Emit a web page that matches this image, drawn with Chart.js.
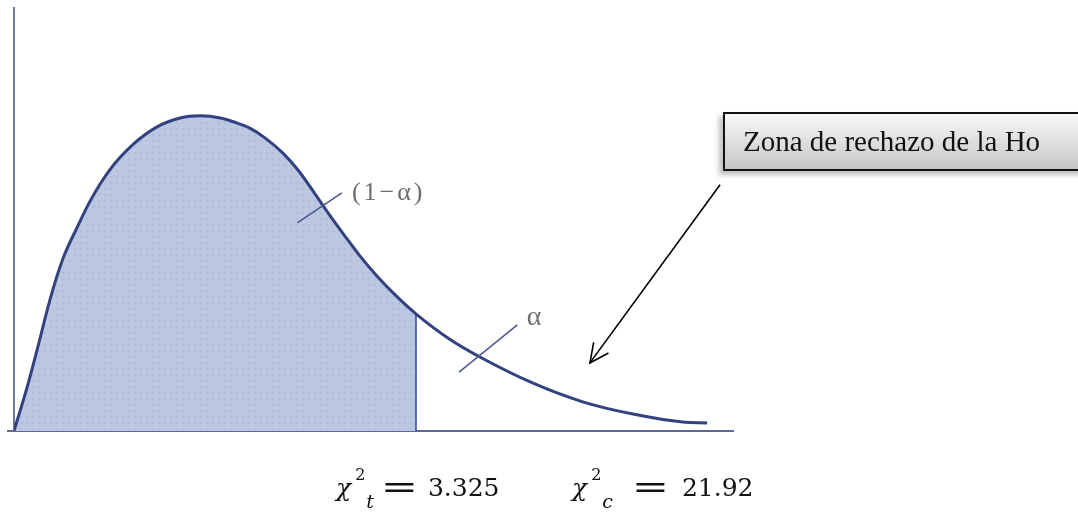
<!DOCTYPE html>
<html>
<head>
<meta charset="utf-8">
<script src="https://cdn.jsdelivr.net/npm/chart.js@4"></script>
<style>
  html, body { margin: 0; padding: 0; background: #fff; }
  #wrap { position: relative; width: 1078px; height: 517px; overflow: hidden; }
  #myChart { position: absolute; left: 0; top: 0; }
  .box {
    position: absolute; left: 723px; top: 112px; width: 370px; height: 55px;
    border: 2px solid #111;
    background: linear-gradient(#f8f8f8, #c6c6c6);
    box-shadow: -4px 4px 5px rgba(0,0,0,0.25);
    font-family: "Liberation Serif", serif; font-size: 29px; color: #111;
    line-height: 55px; padding-left: 18px;
  }
  .lbl { position: absolute; font-family: "Liberation Serif", serif; color: #6e6e6e; font-size: 26px; letter-spacing: 3px; white-space: nowrap; }
  #lblB { font-size: 28px; }
  .eq { position: absolute; top: 473px; font-family: "DejaVu Serif", serif; font-size: 25px; line-height: 30px; color: #111; white-space: nowrap; }
  .eq i { font-style: italic; }
  .eq .sp { position: relative; top: -16px; font-size: 16px; line-height: 0; margin-left: 4px; }
  .eq .sb { position: relative; top: 12px; font-size: 19px; line-height: 0; font-style: italic; margin-left: 1px; }
  .eq .eqs { display: inline-block; transform: scale(1.78, 1.25); }
</style>
</head>
<body>
<div id="wrap">
  <canvas id="myChart" width="1078" height="517"></canvas>
  <div class="box">Zona de rechazo de la Ho</div>
  <div class="lbl" id="lblA">(1−α)</div>
  <div class="lbl" id="lblB">α</div>
  <div class="eq" style="left:336px"><i>χ</i><span class="sp">2</span><span class="sb">t</span><span class="eqs" style="margin:0 18px 0 15px">=</span>3.325</div>
  <div class="eq" style="left:572px"><i>χ</i><span class="sp">2</span><span class="sb">c</span><span class="eqs" style="margin:0 21px 0 27px">=</span>21.92</div>
</div>
<script>
// curve (x and density in arbitrary 0..100 units)
var curveX = [0, 1.8, 3.2, 5.0, 6.8, 8.8, 10.6, 13.4, 16.6, 19.9, 23.1, 25.9, 28.7, 30.7, 32.8, 34.9, 37.4, 39.5, 41.6, 43.7, 45.8, 48.1, 50.5, 53.3, 55.9, 60.6, 64.8, 72.2, 79.1, 86.1, 93.0, 96.4];
var curveY = [0, 10.2, 19.1, 31.0, 40.7, 48.2, 54.4, 61.9, 67.8, 71.9, 74.0, 74.5, 74.0, 73.0, 71.6, 69.3, 65.7, 61.7, 56.7, 51.5, 46.6, 41.4, 36.6, 31.7, 27.7, 21.7, 17.5, 11.3, 6.9, 4.0, 2.1, 1.9];
var cutoff = 55.9;

// annotation anchors in data units
var tickA = [[39.4, 49.2], [45.6, 56.3]];
var tickB = [[61.9, 13.9], [70.0, 25.1]];
var arrow = [[98.2, 58.2], [80.1, 16.1]];
var lblAPos = [47.0, 60.0];
var lblBPos = [71.3, 31.0];

var curvePts = curveX.map(function (x, i) { return { x: x, y: curveY[i] }; });
var shadePts = curvePts.filter(function (p) { return p.x <= cutoff; });
var cutY = curveY[curveX.indexOf(cutoff)];

// dotted fill like the scanned figure
var pc = document.createElement("canvas");
pc.width = 6; pc.height = 6;
var pctx = pc.getContext("2d");
pctx.fillStyle = "#bcc7e2";
pctx.fillRect(0, 0, 6, 6);
pctx.fillStyle = "#b1bddb";
pctx.fillRect(2, 2, 2, 2);
var ctx = document.getElementById("myChart");
var pattern = ctx.getContext("2d").createPattern(pc, "repeat");

var extras = {
  id: "extras",
  afterDatasetsDraw: function (chart) {
    var c = chart.ctx, xs = chart.scales.x, ys = chart.scales.y;
    function px(p) { return [xs.getPixelForValue(p[0]), ys.getPixelForValue(p[1])]; }
    function seg(a, b, color, w) {
      var p = px(a), q = px(b);
      c.save();
      c.strokeStyle = color; c.lineWidth = w;
      c.beginPath(); c.moveTo(p[0], p[1]); c.lineTo(q[0], q[1]); c.stroke();
      c.restore();
      return [p, q];
    }
    seg(tickA[0], tickA[1], "#4a5890", 1.5);
    seg(tickB[0], tickB[1], "#4a5890", 1.5);
    var pq = seg(arrow[0], arrow[1], "#000", 1.6);
    // arrow head
    var p = pq[0], q = pq[1];
    var ang = Math.atan2(q[1] - p[1], q[0] - p[0]);
    c.save();
    c.strokeStyle = "#000"; c.lineWidth = 1.6;
    c.beginPath();
    c.moveTo(q[0] - 21 * Math.cos(ang - 0.45), q[1] - 21 * Math.sin(ang - 0.45));
    c.lineTo(q[0], q[1]);
    c.lineTo(q[0] - 21 * Math.cos(ang + 0.45), q[1] - 21 * Math.sin(ang + 0.45));
    c.stroke();
    c.restore();
    // x axis runs a little past the y axis
    c.save();
    c.strokeStyle = "#5d689e"; c.lineWidth = 2;
    c.beginPath();
    c.moveTo(chart.chartArea.left - 7, chart.chartArea.bottom);
    c.lineTo(chart.chartArea.left, chart.chartArea.bottom);
    c.stroke();
    c.restore();
    // place labels
    var a = px(lblAPos), b = px(lblBPos);
    var la = document.getElementById("lblA"), lb = document.getElementById("lblB");
    la.style.left = a[0] + "px"; la.style.top = a[1] + "px";
    lb.style.left = b[0] + "px"; lb.style.top = b[1] + "px";
  }
};

new Chart(ctx, {
  type: "scatter",
  data: {
    datasets: [
      {
        data: curvePts,
        showLine: true,
        borderColor: "#32417f",
        borderWidth: 3,
        pointRadius: 0,
        fill: false,
        cubicInterpolationMode: "monotone"
      },
      {
        data: [{ x: cutoff, y: 0 }, { x: cutoff, y: cutY }],
        showLine: true,
        borderColor: "#5566a6",
        borderWidth: 2,
        pointRadius: 0
      },
      {
        data: shadePts,
        showLine: true,
        borderWidth: 0,
        borderColor: "rgba(0,0,0,0)",
        pointRadius: 0,
        backgroundColor: pattern,
        fill: "origin",
        cubicInterpolationMode: "monotone"
      }
    ]
  },
  options: {
    responsive: false,
    animation: false,
    layout: { padding: { left: 14, top: 8, right: 345, bottom: 86 } },
    plugins: { legend: { display: false }, tooltip: { enabled: false } },
    scales: {
      x: {
        type: "linear", min: 0, max: 100,
        grid: { display: false, drawTicks: false }, ticks: { display: false },
        border: { display: true, color: "#5d689e", width: 2 }
      },
      y: {
        type: "linear", min: 0, max: 100,
        grid: { display: false, drawTicks: false }, ticks: { display: false },
        border: { display: true, color: "#6d77a8", width: 2 }
      }
    }
  },
  plugins: [extras]
});
</script>
</body>
</html>
